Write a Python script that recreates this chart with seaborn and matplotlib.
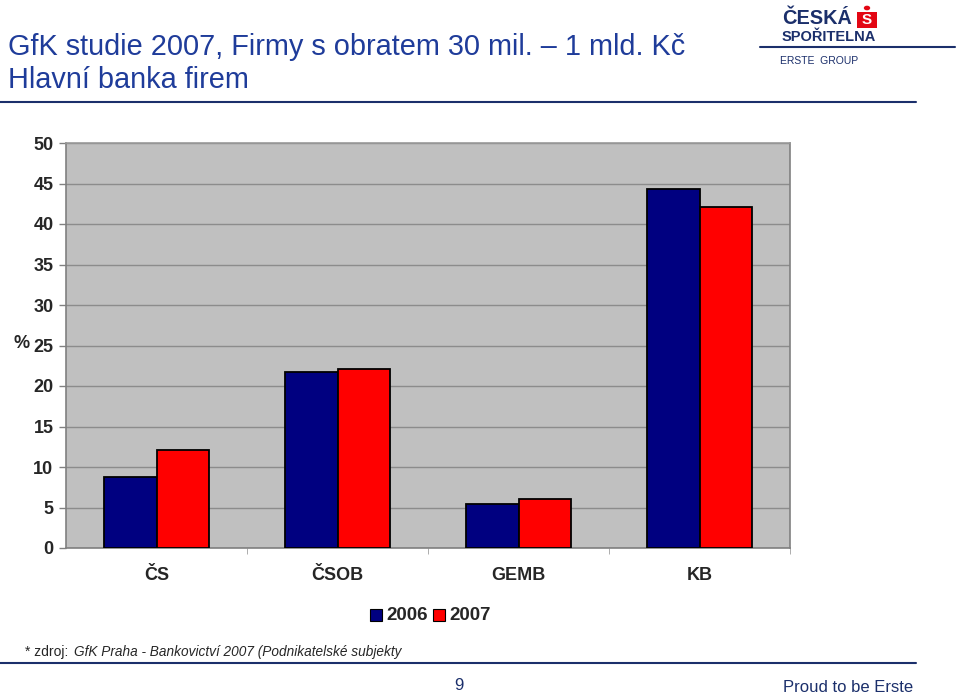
import pandas as pd
import matplotlib
matplotlib.use('Agg')
import matplotlib.pyplot as plt
import seaborn as sns
from matplotlib.lines import Line2D
from matplotlib.patches import Rectangle, Circle

# data
banks = ['ČS', 'ČSOB', 'GEMB', 'KB']
years = ['2006', '2007']
share_2006 = [8.8, 21.7, 5.4, 44.3]
share_2007 = [12.1, 22.1, 6.0, 42.1]
y_ticks = [0, 5, 10, 15, 20, 25, 30, 35, 40, 45, 50]

BLUE = '#1F3C9A'
DARK = '#1B2F6B'

df = pd.DataFrame({
    'bank': banks * 2,
    'year': [years[0]] * len(banks) + [years[1]] * len(banks),
    'share': share_2006 + share_2007,
})

sns.set_style('white')
plt.rcParams['font.family'] = ['Liberation Sans', 'DejaVu Sans']

fig = plt.figure(figsize=(9.6, 6.95), dpi=100)
ax = fig.add_axes([66 / 960, 1 - 548 / 695, 724 / 960, 405 / 695])

sns.barplot(data=df, x='bank', y='share', hue='year', hue_order=years,
            palette=['#000080', '#FF0000'], saturation=1, width=0.58, edgecolor='black',
            linewidth=1.3, ax=ax, legend=False, zorder=3)

ax.set_facecolor('#C0C0C0')
ax.set_ylim(0, 50)
ax.set_xlim(-0.5, len(banks) - 0.5)
ax.set_yticks(y_ticks)
ax.set_yticklabels([str(t) for t in y_ticks], fontsize=13, fontweight='bold')
ax.yaxis.grid(True, color='#8C8C8C', linewidth=1, zorder=0)
ax.set_axisbelow(True)
ax.set_xlabel('')
ax.set_ylabel('')
ax.set_xticks(range(len(banks)))
ax.set_xticklabels(banks, fontsize=13, fontweight='bold')
ax.tick_params(axis='x', length=0, pad=14)
ax.tick_params(axis='y', length=5, color='#808080', width=1, pad=4, direction='out', left=True)
ax.set_xticks([i + 0.5 for i in range(len(banks))], minor=True)
ax.tick_params(axis='x', which='minor', length=4, color='#A0A0A0', bottom=True, direction='out')
for side in ['left', 'right', 'bottom', 'top']:
    ax.spines[side].set_visible(True)
    ax.spines[side].set_color('#808080')
    ax.spines[side].set_linewidth(1.2)
ax.spines['top'].set_color('#999999')

fig.text(13 / 960, 1 - 344 / 695, '%', fontsize=13, fontweight='bold', va='center')

# header
fig.text(8 / 960, 1 - 47 / 695, 'GfK studie 2007, Firmy s obratem 30 mil. – 1 mld. Kč',
         fontsize=20.8, color=BLUE, va='center')
fig.text(8 / 960, 1 - 80 / 695, 'Hlavní banka firem', fontsize=20.8, color=BLUE, va='center')
fig.add_artist(Line2D([0, 916 / 960], [1 - 102 / 695] * 2, color=DARK, linewidth=1.5))
fig.add_artist(Line2D([760 / 960, 955 / 960], [1 - 47 / 695] * 2, color=DARK, linewidth=1.5))

# logo
fig.text(782 / 960, 1 - 18 / 695, 'ČESKÁ', fontsize=14.3, fontweight='heavy', color=DARK, va='center')
fig.text(782 / 960, 1 - 37 / 695, 'SPOŘITELNA', fontsize=10.5, fontweight='heavy', color=DARK, va='center')
fig.add_artist(Rectangle((857 / 960, 1 - 28 / 695), 20 / 960, 16 / 695,
                         facecolor='#E30613', edgecolor='none'))
fig.add_artist(Circle((867 / 960, 1 - 8 / 695), 3.2 / 960, facecolor='#E30613', edgecolor='none',
                      transform=fig.transFigure))
fig.text(867 / 960, 1 - 20 / 695, 'S', fontsize=11, fontweight='bold', color='white',
         ha='center', va='center')
fig.text(780 / 960, 1 - 61 / 695, 'ERSTE  GROUP', fontsize=7.5, color=DARK, va='center')

# legend
fig.add_artist(Rectangle((370 / 960, 1 - 621 / 695), 12 / 960, 12 / 695,
                         facecolor='#000080', edgecolor='black', linewidth=0.8))
fig.text(386 / 960, 1 - 615 / 695, '2006', fontsize=13.5, fontweight='bold', va='center')
fig.add_artist(Rectangle((433 / 960, 1 - 621 / 695), 12 / 960, 12 / 695,
                         facecolor='#FF0000', edgecolor='black', linewidth=0.8))
fig.text(449 / 960, 1 - 615 / 695, '2007', fontsize=13.5, fontweight='bold', va='center')

# footer
fig.text(25 / 960, 1 - 652 / 695, '* zdroj: ', fontsize=10, va='center')
fig.text(74 / 960, 1 - 652 / 695, 'GfK Praha - Bankovictví 2007 (Podnikatelské subjekty',
         fontsize=9.8, style='italic', va='center')
fig.add_artist(Line2D([0, 916 / 960], [1 - 663 / 695] * 2, color=DARK, linewidth=1.5))
fig.text(459 / 960, 1 - 686 / 695, '9', fontsize=12, color=DARK, ha='center', va='center')
fig.text(913 / 960, 1 - 688 / 695, 'Proud to be Erste', fontsize=12, color=DARK, ha='right', va='center')

fig.savefig('out.png', dpi=100)
